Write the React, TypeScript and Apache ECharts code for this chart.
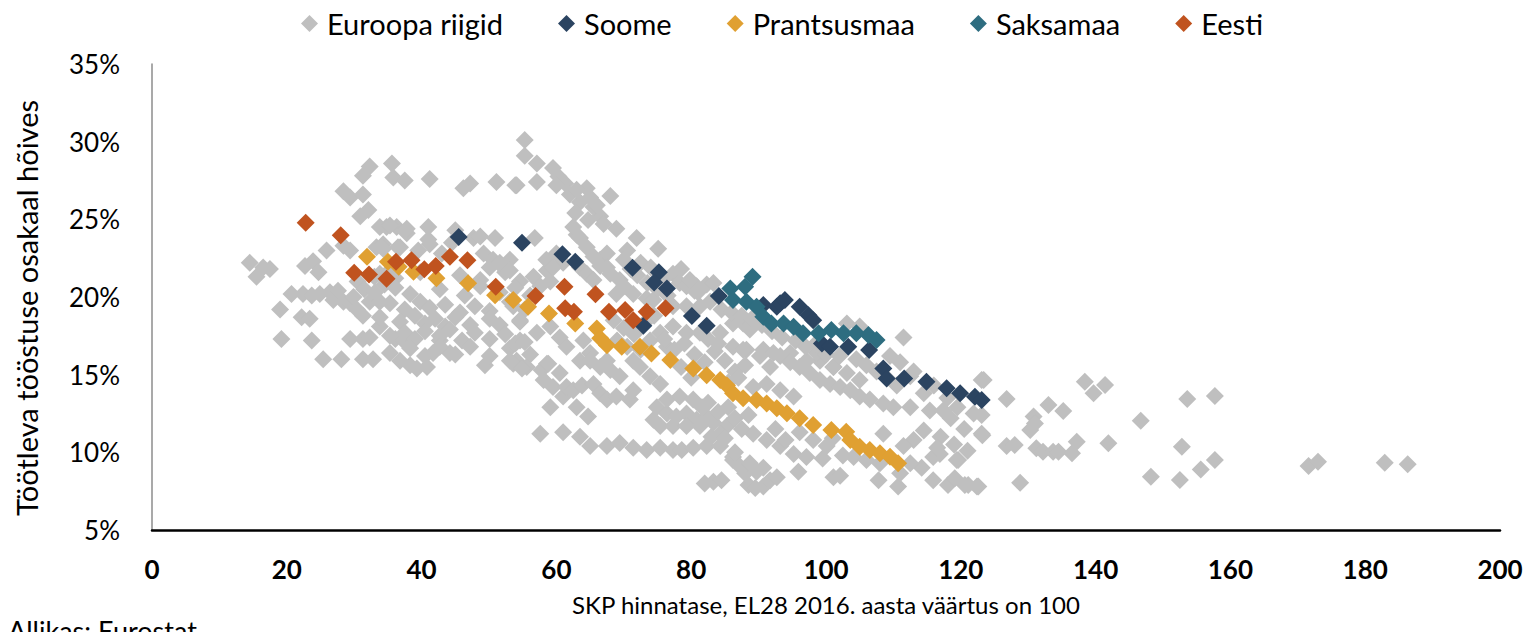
import React, { useEffect, useRef } from "react";
import * as echarts from "echarts";

const xTicks = [0, 20, 40, 60, 80, 100, 120, 140, 160, 180, 200];
const yTicks = [5, 10, 15, 20, 25, 30, 35];

const seriesNames = ["Euroopa riigid", "Soome", "Prantsusmaa", "Saksamaa", "Eesti"];
const seriesColors = ["#BFBFBF", "#2B4461", "#E0A032", "#2E6D80", "#C0531F"];

const euroopa: [number, number][] = [
  [14.5,22.2],[15.5,21.3],[16.5,21.9],[17.5,21.8],[19.0,19.2],[19.2,17.3],[20.7,20.2],[22.2,18.7],[22.4,20.2],[22.7,22.0],
  [23.4,18.6],[23.7,20.1],[23.7,17.2],[23.9,22.3],[24.7,21.6],[24.9,20.2],[25.4,16.0],[25.9,23.0],[26.4,20.3],[26.9,19.8],
  [27.6,20.4],[28.1,16.0],[28.4,23.3],[28.4,19.7],[28.4,26.8],[29.4,26.4],[29.4,23.0],[29.4,19.6],[29.4,17.3],[29.9,20.0],
  [30.4,19.2],[30.9,25.2],[31.3,26.6],[31.3,27.8],[31.3,18.8],[31.3,17.3],[31.3,16.0],[32.1,25.6],[32.3,28.4],[32.3,19.7],
  [32.3,17.4],[32.8,16.0],[33.3,23.2],[33.8,19.7],[33.8,18.1],[34.3,23.4],[34.8,24.5],[35.3,17.5],[35.3,16.4],[35.6,28.6],
  [35.8,27.7],[36.1,17.3],[36.3,24.5],[36.8,23.2],[36.8,15.9],[37.3,17.2],[37.5,27.5],[37.8,24.1],[38.3,15.6],[39.3,15.4],
  [40.8,15.5],[41.0,24.5],[41.2,27.6],[41.2,23.4],[41.7,16.4],[42.7,17.2],[44.2,16.4],[45.0,24.3],[46.2,27.0],[47.2,27.3],
  [47.7,23.8],[49.4,15.6],[50.9,23.8],[51.1,27.4],[54.1,27.2],[54.1,15.9],
  [30.5,21.0],[31.5,20.5],[33.0,21.3],[34.5,20.8],[35.5,21.8],
  [33.8,21.5],[36.1,21.2],[39.8,21.6],[45.7,21.4],[48.7,21.1],[52.4,21.6],[54.6,21.0],
  [33.1,20.3],[36.1,20.6],[38.3,20.2],[42.7,20.5],[46.4,20.1],[48.7,20.7],[51.6,20.3],[53.9,20.6],[56.1,20.1],
  [35.3,19.6],[37.5,19.2],[39.8,19.7],[41.2,19.3],[43.5,19.5],[45.7,19.0],[47.9,19.4],[50.1,19.1],[53.1,19.7],[55.3,19.2],
  [33.8,18.7],[36.8,18.4],[39.0,18.8],[40.5,18.3],[42.0,18.6],[43.5,18.1],[45.0,18.7],[47.2,18.2],[50.1,18.6],[51.6,18.2],[54.6,18.4],
  [37.5,17.7],[39.0,17.3],[40.5,17.8],[42.7,17.5],[44.2,17.9],[46.0,17.2],[47.9,17.7],[50.1,17.3],[52.4,17.6],[54.6,17.2],
  [38.3,16.7],[40.5,16.2],[42.7,16.8],[45.0,16.3],[47.2,16.8],[50.1,16.2],[53.1,16.7],[56.1,16.3],
  [33.8,24.5],[35.3,24.6],[37.8,24.4],[41.0,23.7],[48.7,23.9],[49.2,22.8],[50.6,22.4],[52.1,21.9],[53.1,22.4],[50.1,21.9],
  [34.3,23.1],[36.5,23.2],[39.5,23.0],[43.0,22.8],[44.5,23.5],
  [51.6,22.2],[53.1,21.7],[56.6,21.3],[58.6,21.7],[59.1,21.0],[57.6,20.7],[63.5,21.9],[64.5,21.5],[66.5,22.4],[67.5,22.8],
  [67.5,21.9],[65.5,21.1],[69.4,21.1],[70.0,20.7],[68.9,20.2],[71.4,20.2],[73.4,19.9],[74.4,19.8],[77.3,21.5],[78.3,20.9],
  [79.3,20.7],[80.8,20.7],[82.3,20.8],[83.3,20.9],[77.3,19.4],[79.3,19.4],[81.3,19.4],[77.3,18.1],[79.3,17.7],[81.3,17.7],
  [84.3,17.7],[86.2,18.3],[87.7,18.3],[88.7,17.9],[86.2,16.8],[88.2,16.6],[90.7,16.6],[92.2,16.4],[94.7,16.4],[97.1,15.9],
  [99.1,15.9],[101.1,15.5],[103.1,18.3],[105.0,18.1],[53.6,19.4],[54.6,18.5],[57.1,17.7],[59.1,18.1],[60.5,17.4],[61.5,16.8],
  [64.0,17.2],[65.0,16.4],[67.5,15.9],[71.4,15.9],[73.9,17.2],[75.4,17.7],[53.1,15.9],[55.6,15.5],[58.6,15.7],[60.5,15.1],[63.5,15.9],
  [55.3,30.1],[55.3,29.1],[57.1,28.6],[59.5,28.3],[60.3,27.75],[61.3,27.3],[60.0,27.2],[53.9,27.2],[57.1,27.4],[64.5,27.0],
  [68.0,26.5],[63.5,26.1],[62.8,25.4],[64.7,24.95],[66.5,25.2],[68.9,24.4],[63.0,24.0],[71.9,23.8],[75.1,23.1],[56.8,23.8],
  [65.5,25.8],[62.5,24.5],[63.5,23.8],[64.5,23.2],[65.5,22.6],[66.5,22.0],[68.0,21.5],[60.0,22.8],[61.0,22.2],
  [62.0,26.6],[63.0,26.9],[65.0,26.4],[66.0,25.9],[67.0,24.7],[58.5,22.4],[59.5,21.9],[70.5,23.0],[72.5,22.2],[74.0,21.9],
  [76.0,21.2],[78.5,21.8],[80.5,20.4],
  [53.9,17.0],[55.3,17.1],[53.6,15.7],[54.9,15.4],[57.8,15.3],[58.8,15.7],[58.1,14.65],[59.5,14.2],[61.0,13.6],[59.1,12.9],
  [63.0,12.9],[64.7,12.3],[57.6,11.2],[61.0,11.3],[63.5,11.0],[61.5,14.2],[62.5,14.0],[63.8,14.3],[65.5,14.4],[66.5,13.8],
  [67.5,13.4],[68.9,13.6],[70.9,13.4],[65.0,15.9],[66.5,15.5],[68.0,15.3],[69.4,14.9],[71.4,14.0],[72.4,15.5],[73.9,14.9],
  [75.4,14.4],[76.4,16.8],[74.9,12.9],[76.4,12.5],[77.8,12.3],[79.3,12.5],[80.8,12.1],[82.3,12.3],[76.4,13.4],[78.3,13.6],
  [80.3,13.4],[81.6,12.9],[74.4,12.1],[75.4,11.7],[77.3,11.7],[79.3,11.7],[81.3,11.7],[83.3,11.9],[85.3,11.7],[84.3,11.2],
  [89.2,11.2],[91.2,10.8],[93.2,10.4],[95.2,9.9],[97.1,9.7],
  [65.0,10.4],[67.5,10.4],[69.4,10.6],[71.4,10.3],[73.4,10.15],[75.4,10.3],[77.3,10.15],[78.6,10.15],[80.3,10.3],[82.3,10.4],
  [84.3,10.4],[86.2,9.7],
  [82.5,13.2],[84.0,12.6],[85.5,12.9],[86.5,12.2],[83.0,11.0],[85.0,10.9],[87.5,11.5],[88.5,12.4],
  [99.5,9.6],[102.5,9.8],[101.0,10.9],[94.0,10.8],[92.5,11.5],
  [82.0,8.0],[83.3,8.1],[84.5,8.2],[88.5,7.9],[89.5,7.7],[90.7,7.8],[91.7,8.2],[92.7,8.4],[88.0,8.65],[87.2,9.1],
  [86.2,9.5],[86.5,10.0],[88.7,9.3],[90.7,9.0],[89.7,8.75],[95.9,8.75],[101.1,8.4],[102.1,8.5],[107.8,8.2],[110.7,7.8],
  [111.0,8.65],[114.2,9.0],[115.9,8.2],[118.1,7.9],[119.6,9.5],[120.6,7.9],[122.4,7.8],[116.9,9.9],
  [87.7,16.6],[90.2,16.2],[91.7,15.5],[93.2,16.2],[94.7,15.8],[96.1,15.5],[97.6,15.1],[99.1,14.65],[100.6,14.4],[102.1,14.2],
  [103.6,14.0],[105.0,13.6],[106.5,13.4],[108.5,13.15],[110.0,12.9],[101.1,15.5],[103.1,15.1],[105.0,14.65],[98.6,16.4],
  [89.2,14.2],[91.2,14.4],[93.2,14.0],[95.2,13.6],[111.5,17.4],[113.0,15.2],[114.5,13.8],[112.5,12.9],[115.4,12.7],[117.4,12.7],
  [121.9,12.5],[123.1,14.65],[123.1,11.2],[114.5,11.4],[113.0,10.8],[111.5,10.4],[108.5,11.2],
  [96.1,11.3],[98.1,10.8],[100.1,10.4],[104.1,9.7],[106.0,9.5],[108.0,9.3],[112.5,9.3],[115.9,9.7],
  [80.5,16.3],[82.0,15.8],[83.5,16.5],[85.0,15.9],[86.5,15.2],[88.0,15.6],[84.0,17.0],[82.5,17.3],[85.5,14.5],[87.0,14.8],
  [80.0,14.8],[78.5,15.5],[77.5,16.6],[79.0,17.0],
  [68.5,18.5],[70.0,18.0],[71.5,17.6],[73.0,18.3],[74.5,18.8],[76.0,17.3],[70.5,16.8],[72.5,16.6],[69.0,17.2],
  [95.5,17.2],[97.0,16.8],[98.5,17.0],[100.0,16.3],[102.0,16.2],[104.5,16.0],[106.0,15.6],[107.5,15.2],[109.0,14.8],[110.5,14.3],
  [109.5,16.2],[111.0,15.8],[112.5,14.9],[116.0,14.3],[118.0,13.5],[119.5,12.9],
  [81.0,20.3],[82.8,19.7],[84.5,19.2],[86.0,19.0],[87.5,18.8],[89.0,18.6],[90.5,18.2],[92.0,17.8],[93.5,17.4],
  [70.0,22.4],[71.0,21.8],[72.0,21.4],[73.5,20.9],[75.0,20.5],[76.5,20.1],[79.8,21.1],
  [117.0,11.0],[119.0,10.5],[120.5,11.5],[118.5,12.2],[116.5,10.3],[121.0,10.1],
  [123.4,14.65],[126.8,13.43],[123.1,12.4],[123.2,11.1],[119.4,9.5],[119.1,8.33],[121.1,7.9],[122.6,7.8],[128.8,8.04],
  [126.8,10.4],[128.0,10.47],[130.8,12.3],[131.0,11.86],[130.3,11.44],[133.0,13.04],[135.2,12.66],[131.2,10.26],[132.2,10.04],
  [133.7,10.04],[134.5,10.04],[136.5,9.94],[137.2,10.68],[138.4,14.54],[139.7,13.8],[141.4,14.33],[141.9,10.58],[146.7,12.03],
  [148.2,8.43],[152.8,10.36],[152.5,8.22],[153.6,13.43],[155.6,8.9],[157.7,9.5],[157.7,13.62],[171.6,9.12],[173.0,9.4],
  [182.9,9.33],[186.3,9.23]
];

const soome: [number, number][] = [
  [45.5,23.87],[54.9,23.5],[60.9,22.76],[62.8,22.27],[71.3,21.89],[75.2,21.6],[74.5,20.94],[76.4,20.55],[72.9,18.15],
  [80.1,18.77],[82.3,18.15],[84.1,20.06],[90.7,19.48],[92.7,19.37],[93.2,19.6],[93.9,19.8],[96.1,19.37],[97.4,18.83],
  [98.1,18.51],[99.4,17.01],[100.6,16.8],[103.3,16.8],[106.4,16.58],[108.5,15.4],[109.0,14.76],[111.6,14.76],
  [114.9,14.54],[117.9,14.12],[119.9,13.8],[122.1,13.58],[123.1,13.37]
];

const prantsusmaa: [number, number][] = [
  [31.9,22.59],[35.0,22.27],[36.6,21.95],[38.8,21.63],[42.2,21.2],[46.9,20.88],[50.9,20.12],[53.6,19.8],[55.8,19.37],
  [58.9,18.94],[62.8,18.3],[66.0,17.98],[66.5,17.34],[67.5,16.9],[69.7,16.8],[72.4,16.8],[74.1,16.37],[76.9,15.94],
  [80.3,15.4],[82.3,14.97],[84.3,14.65],[85.3,14.3],[86.2,13.8],[87.7,13.48],[89.7,13.37],[91.2,13.15],[92.7,12.83],
  [94.2,12.51],[96.1,12.19],[98.1,11.76],[100.8,11.43],[103.0,11.33],[103.6,10.79],[105.0,10.36],[106.5,10.15],
  [108.0,9.94],[109.5,9.72],[110.7,9.29]
];

const saksamaa: [number, number][] = [
  [89.1,21.3],[88.0,20.66],[85.8,20.55],[86.2,19.8],[88.2,19.69],[89.7,19.37],[90.7,18.73],[91.9,18.3],[93.7,18.3],
  [95.2,18.09],[96.6,17.66],[98.9,17.66],[100.8,17.87],[102.6,17.66],[104.5,17.66],[106.3,17.55],[107.5,17.23]
];

const eesti: [number, number][] = [
  [22.8,24.78],[28.0,23.98],[30.0,21.56],[32.2,21.45],[34.8,21.17],[36.2,22.27],[38.5,22.37],[40.4,21.78],[42.1,21.99],
  [44.2,22.59],[46.8,22.37],[51.0,20.66],[56.9,20.06],[61.2,20.66],[61.3,19.27],[62.6,19.05],[65.8,20.17],[67.8,19.05],
  [70.2,19.16],[71.4,18.51],[73.4,19.05],[76.2,19.27]
];

const seriesData = [euroopa, soome, prantsusmaa, saksamaa, eesti];

const FONT = "Lato";

export default function App() {
  const ref = useRef<HTMLDivElement>(null);

  useEffect(() => {
    document.body.style.margin = "0";
    if (!ref.current) return;
    const chart = echarts.init(ref.current, undefined, { renderer: "svg" });
    chart.setOption({
      animation: false,
      backgroundColor: "#ffffff",
      textStyle: { fontFamily: FONT, color: "#000000" },
      legend: {
        top: 4,
        left: 296,
        icon: "diamond",
        itemWidth: 17,
        itemHeight: 17,
        itemGap: 55,
        data: seriesNames,
        textStyle: { fontFamily: FONT, fontSize: 29, color: "#000000", padding: [0, 0, 0, 4] },
      },
      grid: { left: 152, right: 27, top: 64, bottom: 102, containLabel: false },
      xAxis: {
        type: "value",
        min: xTicks[0],
        max: xTicks[xTicks.length - 1],
        interval: 20,
        name: "SKP hinnatase, EL28 2016. aasta väärtus on 100",
        nameLocation: "middle",
        nameGap: 62,
        nameTextStyle: { fontFamily: FONT, fontSize: 24, color: "#000000" },
        axisLine: { show: true, lineStyle: { color: "#000000", width: 2.5 } },
        axisTick: { show: false },
        splitLine: { show: false },
        axisLabel: { fontFamily: FONT, fontSize: 26, fontWeight: "bold", color: "#000000", margin: 26 },
      },
      yAxis: {
        type: "value",
        min: yTicks[0],
        max: yTicks[yTicks.length - 1],
        interval: 5,
        axisLine: { show: true, lineStyle: { color: "#8C8C8C", width: 1.5 } },
        axisTick: { show: false },
        splitLine: { show: false },
        axisLabel: { fontFamily: FONT, fontSize: 26, color: "#000000", margin: 32, formatter: "{value}%" },
      },
      graphic: [
        {
          type: "text",
          x: 26,
          y: 308,
          rotation: Math.PI / 2,
          style: {
            text: "Töötleva tööstuse osakaal hõives",
            font: `29px ${FONT}`,
            fill: "#000000",
            align: "center",
            verticalAlign: "middle",
          },
        },
        {
          type: "text",
          left: 8,
          top: 617,
          style: { text: "Allikas: Eurostat", font: `27px ${FONT}`, fill: "#000000" },
        },
      ],
      series: seriesNames.map((name, i) => ({
        name,
        type: "scatter",
        symbol: "diamond",
        symbolSize: 18,
        data: seriesData[i],
        itemStyle: { color: seriesColors[i], opacity: 1 },
        emphasis: { disabled: true },
        z: 2 + i,
      })),
    });
    return () => chart.dispose();
  }, []);

  return <div ref={ref} style={{ width: 1527, height: 632 }} />;
}
